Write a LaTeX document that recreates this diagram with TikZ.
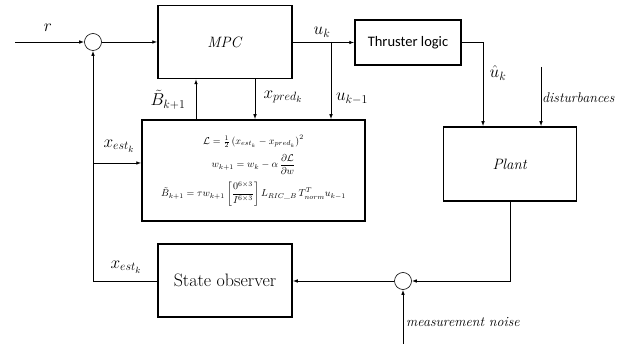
\documentclass[tikz,border=0pt]{standalone}
\usepackage{amsmath}
\usepackage{fontspec}
\newfontfamily\calib{Carlito}
\usetikzlibrary{arrows.meta}
\begin{document}
\begin{tikzpicture}[x=1pt,y=-1pt,
  blockbox/.style={draw,line width=1.5pt,inner sep=0pt},
  sumnode/.style={draw,circle,line width=0.6pt,minimum size=17pt,inner sep=0pt},
  arr/.style={line width=0.9pt,-{Latex[length=5pt,width=3.6pt]}},
  wire/.style={line width=0.9pt},
  lbl/.style={inner sep=1pt,font=\fontsize{18}{20}\selectfont},
  itlbl/.style={inner sep=0pt,anchor=west,font=\fontsize{14}{16}\selectfont\itshape}]
\useasboundingbox (0,0) rectangle (632,344);

% blocks
\node[blockbox,minimum width=134pt,minimum height=73pt] (mpc) at (225,42)
  {\fontsize{15}{18}\selectfont\textit{MPC}};
\node[blockbox,minimum width=106pt,minimum height=45pt] (thr) at (408,42.5)
  {\calib\fontsize{14.5}{17}\selectfont Thruster logic};
\node[blockbox,minimum width=133pt,minimum height=74pt] (plant) at (510,164)
  {\fontsize{15}{18}\selectfont\textit{Plant}};
\node[blockbox,minimum width=223pt,minimum height=101pt] (upd) at (253.5,170.5)
  {\fontsize{10}{12}\selectfont$\begin{gathered}
    \mathcal{L}=\tfrac{1}{2}\left(x_{est_k}-x_{pred_k}\right)^{2}\\[2pt]
    w_{k+1}=w_k-\alpha\,\frac{\partial\mathcal{L}}{\partial w}\\[3pt]
    \tilde{B}_{k+1}=\tau w_{k+1}\left[\dfrac{0^{6\times3}}{I^{6\times3}}\right]L_{RIC\_B}\,T^{T}_{norm}u_{k-1}
  \end{gathered}$};
\node[blockbox,minimum width=134pt,minimum height=73pt] (obs) at (225,280.5)
  {\fontsize{18}{21}\selectfont State observer};

% summing junctions
\node[sumnode] (s1) at (93,42) {};
\node[sumnode] (s2) at (403,281) {};

% free ends and corners
\coordinate (rin) at (15,42);
\coordinate (uk) at (331,42);
\coordinate (dist) at (541,67);
\coordinate (noise) at (403,344);
\coordinate (fbcorner) at (93,281);
\coordinate (fbtap) at (93,163);

% signal paths
\draw[arr] (rin) -- (s1);
\draw[arr] (s1) -- (mpc);
\draw[arr] (mpc.east |- thr.west) -- (thr.west);
\draw[arr] (uk) -- (uk |- upd.north);
\draw[arr] (thr.east) -| (483,0 |- plant.north);
\draw[arr] (dist) -- (dist |- plant.north);
\draw[arr] (plant.south) |- (s2);
\draw[arr] (noise) -- (s2);
\draw[arr] (s2) -- (fbcorner -| obs.east);
\draw[wire] (fbcorner -| obs.west) -- (fbcorner);
\draw[arr] (fbcorner) -- (s1.south);
\draw[arr] (fbtap) -- (fbtap -| upd.west);
\draw[arr] (196,0 |- upd.north) -- (196,0 |- mpc.south);
\draw[arr] (255,0 |- mpc.south) -- (255,0 |- upd.north);

% labels
\node[lbl] (lr) at (48,28) {$r$};
\node[lbl] (luk) at (322,32) {$u_k$};
\node[lbl] (lukm) at (352,99) {$u_{k-1}$};
\node[lbl] (luh) at (498,73) {$\hat{u}_k$};
\node[itlbl] (ldist) at (542,98) {disturbances};
\node[lbl] (lb) at (168,99.5) {$\tilde{B}_{k+1}$};
\node[lbl] (lxp) at (283,97) {$x_{pred_k}$};
\node[lbl] (lxe1) at (119,146) {$x_{est_k}$};
\node[lbl] (lxe2) at (126,267) {$x_{est_k}$};
\node[itlbl] (lnoise) at (406,322) {measurement noise};
\end{tikzpicture}
\end{document}
